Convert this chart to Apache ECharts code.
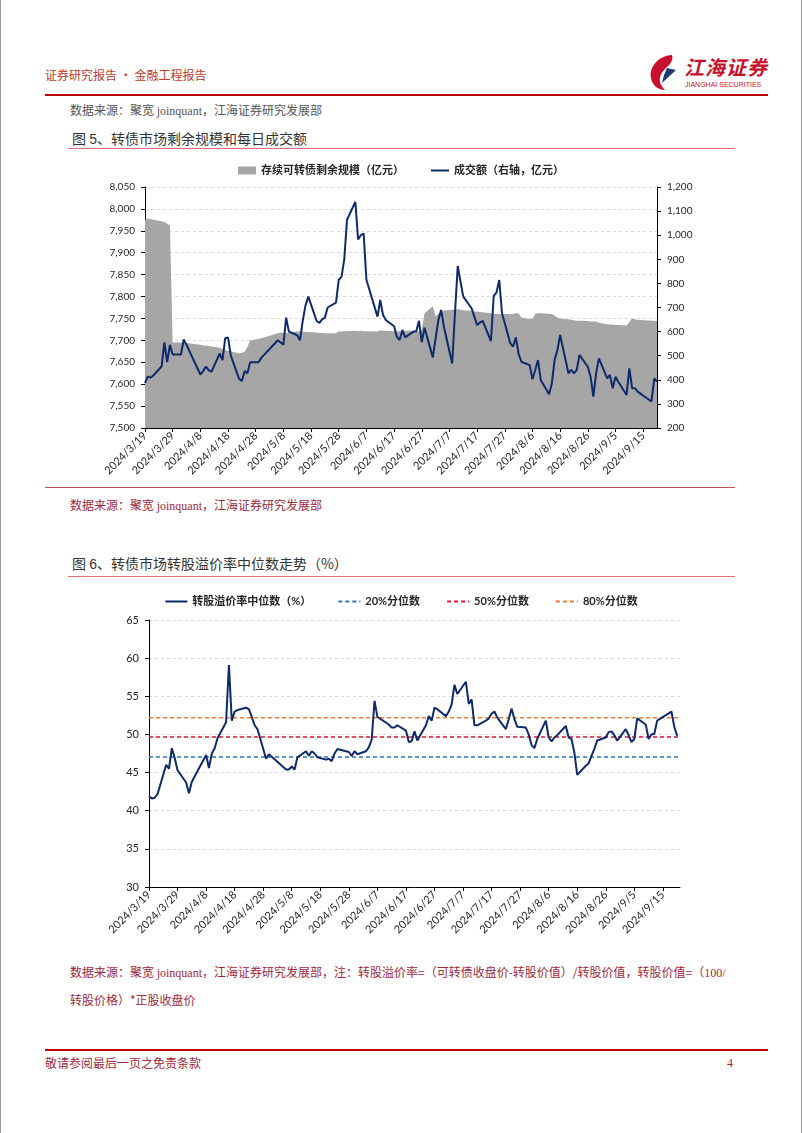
<!DOCTYPE html>
<html><head><meta charset="utf-8">
<script src="https://cdn.jsdelivr.net/npm/echarts@6/dist/echarts.min.js"></script>
<style>
html,body{margin:0;padding:0;background:#fff;}
#page{position:relative;width:802px;height:1133px;overflow:hidden;background:#fff;font-family:"Noto Sans CJK SC",sans-serif;}
.t{position:absolute;white-space:nowrap;line-height:1;}
.hl{position:absolute;height:0;}
</style></head>
<body><div id="page">
<div style="position:absolute;left:0;top:0;width:800px;height:1133px;border-left:1px solid #9a9a9a;border-right:1px solid #9a9a9a;"></div>
<div class="t" style="left:45px;top:69px;font-size:12px;color:#C0392B;">证券研究报告 · 金融工程报告</div>
<svg style="position:absolute;left:648px;top:53px;" width="34" height="38" viewBox="0 0 34 38">
<path d="M24,2 C10,3 1,14 3,25 C4,32 10,37 17,37 C10,31 10,22 17,16 C21,12 26,8 24,2 Z" fill="#C8102E"/>
<path d="M19,15 L28,17 L14,30 L16,22 Z" fill="#1F3B73"/>
</svg>
<div class="t" style="left:684px;top:57px;font-size:20px;font-weight:bold;font-style:italic;color:#C8102E;letter-spacing:1px;">江海证券</div>
<div class="t" style="left:685px;top:81px;font-size:7px;font-family:'Liberation Sans',sans-serif;color:#C8102E;">JIANGHAI SECURITIES</div>
<div class="hl" style="left:45px;top:94px;width:723px;border-top:2px solid #C00000;"></div>
<div class="t" style="left:70px;top:104px;font-size:12px;color:#555;">数据来源：聚宽 <span style="font-family:'Liberation Serif',serif;">joinquant</span>，江海证券研究发展部</div>
<div class="t" style="left:72px;top:131px;font-size:14px;color:#333;">图 <span style="font-family:'Liberation Sans',sans-serif;">5</span>、转债市场剩余规模和每日成交额</div>
<div class="hl" style="left:68px;top:148px;width:667px;border-top:1px solid #E0707A;"></div>
<div id="c1" style="position:absolute;left:0;top:150px;width:802px;height:335px;"></div>
<div class="hl" style="left:45px;top:487px;width:690px;border-top:1px solid #C0504D;"></div>
<div class="t" style="left:70px;top:499px;font-size:12px;color:#A0283C;">数据来源：聚宽 <span style="font-family:'Liberation Serif',serif;">joinquant</span>，江海证券研究发展部</div>
<div class="t" style="left:72px;top:556px;font-size:14px;color:#333;">图 <span style="font-family:'Liberation Sans',sans-serif;">6</span>、转债市场转股溢价率中位数走势（%）</div>
<div class="hl" style="left:68px;top:576px;width:667px;border-top:1px solid #E0707A;"></div>
<div id="c2" style="position:absolute;left:0;top:580px;width:802px;height:375px;"></div>
<div class="t" style="left:70px;top:966px;font-size:12px;color:#A0283C;">数据来源：聚宽 <span style="font-family:'Liberation Serif',serif;">joinquant</span>，江海证券研究发展部，注：转股溢价率=（可转债收盘价-转股价值）/转股价值，转股价值=（<span style="font-family:'Liberation Serif',serif;">100/</span></div>
<div class="t" style="left:70px;top:994px;font-size:12px;color:#A0283C;">转股价格）*正股收盘价</div>
<div class="hl" style="left:45px;top:1049px;width:723px;border-top:2px solid #C00000;"></div>
<div class="t" style="left:45px;top:1057px;font-size:12px;color:#A0283C;">敬请参阅最后一页之免责条款</div>
<div class="t" style="left:727px;top:1057px;font-size:12px;font-family:'Liberation Serif',serif;color:#A0283C;">4</div>
</div>
<script>
const tradeDates = ['2024/3/19','2024/3/20','2024/3/21','2024/3/22','2024/3/25','2024/3/26','2024/3/27','2024/3/28','2024/3/29',
'2024/4/1','2024/4/2','2024/4/3','2024/4/8','2024/4/9','2024/4/10','2024/4/11','2024/4/12','2024/4/15','2024/4/16','2024/4/17','2024/4/18','2024/4/19','2024/4/22','2024/4/23','2024/4/24','2024/4/25','2024/4/26','2024/4/29','2024/4/30',
'2024/5/6','2024/5/7','2024/5/8','2024/5/9','2024/5/10','2024/5/13','2024/5/14','2024/5/15','2024/5/16','2024/5/17','2024/5/20','2024/5/21','2024/5/22','2024/5/23','2024/5/24','2024/5/27','2024/5/28','2024/5/29','2024/5/30','2024/5/31',
'2024/6/3','2024/6/4','2024/6/5','2024/6/6','2024/6/7','2024/6/11','2024/6/12','2024/6/13','2024/6/14','2024/6/17','2024/6/18','2024/6/19','2024/6/20','2024/6/21','2024/6/24','2024/6/25','2024/6/26','2024/6/27','2024/6/28',
'2024/7/1','2024/7/2','2024/7/3','2024/7/4','2024/7/5','2024/7/8','2024/7/9','2024/7/10','2024/7/11','2024/7/12','2024/7/15','2024/7/16','2024/7/17','2024/7/18','2024/7/19','2024/7/22','2024/7/23','2024/7/24','2024/7/25','2024/7/26','2024/7/29','2024/7/30','2024/7/31',
'2024/8/1','2024/8/2','2024/8/5','2024/8/6','2024/8/7','2024/8/8','2024/8/9','2024/8/12','2024/8/13','2024/8/14','2024/8/15','2024/8/16','2024/8/19','2024/8/20','2024/8/21','2024/8/22','2024/8/23','2024/8/26','2024/8/27','2024/8/28','2024/8/29','2024/8/30',
'2024/9/2','2024/9/3','2024/9/4','2024/9/5','2024/9/6','2024/9/9','2024/9/10','2024/9/11','2024/9/12','2024/9/13','2024/9/18','2024/9/19','2024/9/20'];

const scaleValues = [7975,7978,7977,7975,7972,7970,7966,7962,7695,
7695,7694,7694,7690,7688,7688,7687,7686,7683,7680,7678,7676,7675,7670,7672,7674,7685,7700,7703,7705,
7716,7718,7717,7716,7718,7720,7720,7720,7719,7719,7718,7717,7717,7716,7716,7716,7720,7720,7721,7721,
7722,7721,7722,7721,7721,7720,7723,7722,7722,7721,7721,7721,7721,7722,7722,7721,7720,7725,7762,
7778,7755,7760,7765,7768,7770,7771,7771,7770,7769,7767,7766,7766,7765,7764,7762,7760,7760,7760,7760,7760,7760,7762,
7762,7752,7749,7749,7760,7762,7762,7761,7760,7757,7752,7750,7748,7747,7746,7745,7745,7744,7743,7743,7743,7740,
7737,7736,7736,7735,7735,7734,7742,7750,7748,7747,7745,7745,7744];

const volumeValues = [387,413,409,418,455,555,473,545,505,
505,567,545,422,436,455,440,433,509,482,573,576,500,404,395,436,427,473,473,491,
564,555,545,658,600,585,564,645,709,745,645,636,651,658,700,720,815,827,900,1064,
1138,982,1000,1007,815,662,731,669,648,622,579,565,607,576,600,600,645,556,616,
493,572,648,690,620,468,676,872,807,745,697,662,627,637,645,561,748,762,814,676,551,538,576,
507,475,461,402,441,482,399,340,386,482,523,586,427,441,427,441,503,454,413,330,427,489,
406,420,365,413,392,337,447,365,365,351,310,406,392];

const premiumValues = [41.9,41.6,41.7,42.2,46.0,45.5,48.2,46.9,45.3,
43.7,42.3,43.8,47.3,45.6,47.5,48.2,49.5,51.6,59.1,51.8,53.0,53.2,53.5,53.3,52.3,51.2,50.7,46.8,47.4,
45.4,45.4,45.8,45.4,47.0,47.8,47.2,47.8,47.5,47.0,46.7,46.8,46.5,47.5,48.1,47.8,47.7,47.2,47.8,47.4,
47.8,48.3,49.3,54.4,52.3,51.3,50.9,50.9,51.2,50.5,49.0,49.1,50.4,49.2,51.2,52.4,51.8,53.5,53.3,
52.4,53.0,53.9,56.5,55.3,56.9,54.0,54.6,51.2,51.2,51.8,52.1,52.7,53.0,52.2,50.7,52.0,53.4,52.0,51.0,50.9,50.0,48.6,
48.2,49.4,51.8,49.6,49.1,49.6,49.9,51.1,49.6,49.4,47.6,44.7,45.9,46.2,47.2,48.1,49.2,49.6,50.3,50.4,49.9,49.2,
50.7,49.9,49.0,49.4,52.1,51.3,49.4,50.0,50.1,51.8,53.0,51.0,49.8];

const pct20 = 47.04, pct50 = 49.67, pct80 = 52.2;

const xTickLabels = ['2024/3/19','2024/3/29','2024/4/8','2024/4/18','2024/4/28','2024/5/8','2024/5/18','2024/5/28','2024/6/7','2024/6/17','2024/6/27','2024/7/7','2024/7/17','2024/7/27','2024/8/6','2024/8/16','2024/8/26','2024/9/5','2024/9/15'];

const names1 = ['存续可转债剩余规模（亿元）','成交额（右轴，亿元）'];
const names2 = ['转股溢价率中位数（%）','20%分位数','50%分位数','80%分位数'];

function dayNum(s){const p=s.split('/').map(Number);return Math.round(Date.UTC(p[0],p[1]-1,p[2])/86400000);}
const base = dayNum(xTickLabels[0]);
const xs = tradeDates.map(s=>dayNum(s)-base);
const tickPos = xTickLabels.map(s=>dayNum(s)-base);
const labelOf = {}; tickPos.forEach((p,i)=>{labelOf[p]=xTickLabels[i];});
const endDay = xs[xs.length-1];

const NAVY = '#0E2A6B';
const LATIN = 'Lato, "Noto Sans CJK SC", sans-serif';

function xAxisCfg(maxv){
  return {type:'value', min:0, max:maxv, interval:10,
    axisLine:{show:true, lineStyle:{color:'#000', width:1}},
    axisTick:{show:true, length:4, customValues:tickPos, lineStyle:{color:'#000'}},
    axisLabel:{customValues:tickPos, rotate:45, margin:6, fontSize:11, color:'#262626', fontFamily:LATIN,
      formatter:v=>labelOf[v]||''},
    splitLine:{show:false}};
}
const gridLine = {show:true, lineStyle:{color:'#D9D9D9', type:[3,3], width:1}};
const noSym = {opacity:0};

const c1 = echarts.init(document.getElementById('c1'));
c1.setOption({
  animation:false,
  legend:{top:10, left:'center', itemGap:26, itemWidth:18, itemHeight:8,
    textStyle:{fontSize:11, fontWeight:'bold', color:'#262626', fontFamily:LATIN},
    data:[{name:names1[0], icon:'rect'}, {name:names1[1], itemStyle:noSym}]},
  grid:{left:145, top:37, width:512, height:241},
  xAxis:xAxisCfg(endDay),
  yAxis:[
    {type:'value', min:7500, max:8050, interval:50, position:'left',
     axisLine:{show:true, lineStyle:{color:'#000'}}, axisTick:{show:true, length:4, lineStyle:{color:'#000'}},
     axisLabel:{fontSize:10, color:'#262626', fontFamily:LATIN, margin:10, formatter:v=>v.toLocaleString('en-US')},
     splitLine:gridLine},
    {type:'value', min:200, max:1200, interval:100, position:'right',
     axisLine:{show:true, lineStyle:{color:'#000'}}, axisTick:{show:true, length:4, lineStyle:{color:'#000'}},
     axisLabel:{fontSize:10, color:'#262626', fontFamily:LATIN, margin:10, formatter:v=>v.toLocaleString('en-US')},
     splitLine:{show:false}}
  ],
  series:[
    {name:names1[0], type:'line', yAxisIndex:0, data:xs.map((x,i)=>[x, scaleValues[i]]),
     symbol:'none', lineStyle:{width:0}, itemStyle:{color:'#A6A6A6'}, areaStyle:{color:'#A6A6A6', opacity:1}, z:1},
    {name:names1[1], type:'line', yAxisIndex:1, data:xs.map((x,i)=>[x, volumeValues[i]]),
     symbol:'none', lineStyle:{width:2, color:NAVY}, itemStyle:{color:NAVY}, z:3}
  ]
});

const c2 = echarts.init(document.getElementById('c2'));
const refLine = (name, v, color)=>({name, type:'line', data:[[0, v],[endDay+1, v]], symbol:'none',
  lineStyle:{width:1.5, color, type:[4,3]}, itemStyle:{color}, z:2});
c2.setOption({
  animation:false,
  legend:{top:11, left:'center', itemGap:26, itemWidth:22, itemHeight:8,
    textStyle:{fontSize:11, fontWeight:'bold', color:'#262626', fontFamily:LATIN},
    data:names2.map(n=>({name:n, itemStyle:noSym}))},
  grid:{left:149, top:40, width:531, height:267},
  xAxis:xAxisCfg(endDay+1),
  yAxis:{type:'value', min:30, max:65, interval:5,
    axisLine:{show:true, lineStyle:{color:'#000'}}, axisTick:{show:true, length:4, lineStyle:{color:'#000'}},
    axisLabel:{fontSize:11, color:'#262626', fontFamily:LATIN, margin:10},
    splitLine:gridLine},
  series:[
    {name:names2[0], type:'line', data:xs.map((x,i)=>[x, premiumValues[i]]), symbol:'none',
     lineStyle:{width:2, color:NAVY}, itemStyle:{color:NAVY}, z:4},
    refLine(names2[1], pct20, '#2E75B6'),
    refLine(names2[2], pct50, '#E0102F'),
    refLine(names2[3], pct80, '#ED7D31')
  ]
});
</script>
</body></html>
